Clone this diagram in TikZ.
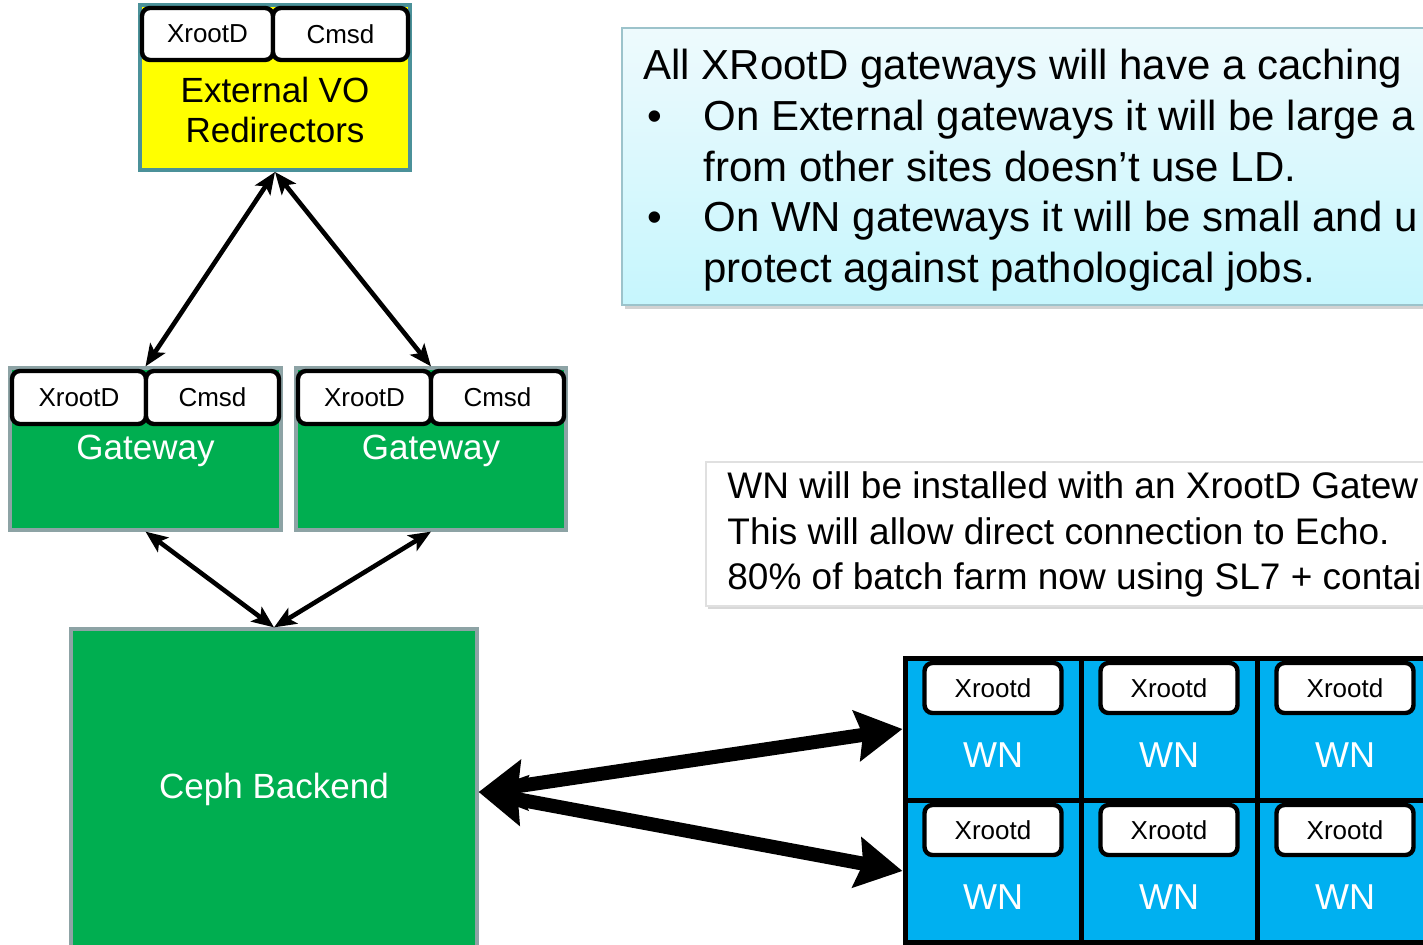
\documentclass[tikz,border=0pt]{standalone}
\usepackage{fontspec}
\setmainfont{Liberation Sans}
\usetikzlibrary{arrows.meta,shadows}
\definecolor{vyellow}{HTML}{FFFF00}
\definecolor{vteal}{HTML}{4B9199}
\definecolor{vgreen}{HTML}{00AE50}
\definecolor{vgray}{HTML}{8DA3A5}
\definecolor{vcyan}{HTML}{00B0F0}
\definecolor{notetop}{HTML}{EEFAFD}
\definecolor{notebot}{HTML}{C6F6FD}
\definecolor{noteborder}{HTML}{9CC3CB}
\begin{document}
\begin{tikzpicture}[x=0.5pt,y=-0.5pt,
  tag/.style={draw=black, line width=2.2pt, fill=white, rounded corners=4pt, inner sep=0pt,
    font=\fontsize{13}{15}\selectfont},
  extbox/.style={draw=vteal, line width=2pt, fill=vyellow, inner sep=0pt},
  gwbox/.style={draw=vgray, line width=1.6pt, fill=vgreen, inner sep=0pt},
  wncell/.style={draw=black, line width=2.5pt, fill=vcyan, inner sep=0pt,
    minimum width=88pt, minimum height=71pt},
  bigtext/.style={font=\fontsize{17.5}{20}\selectfont, inner sep=0pt},
  whitetext/.style={bigtext, text=white},
  thinarrow/.style={line width=2.3pt, {Stealth[length=11pt,width=9pt,inset=2.5pt]}-{Stealth[length=11pt,width=9pt,inset=2.5pt]}},
  thickarrow/.style={line width=7pt, {Stealth[length=23pt,width=25pt,inset=3pt]}-{Stealth[length=23pt,width=25pt,inset=3pt]}},
  notetext/.style={anchor=base west, inner sep=0pt, font=\fontsize{21}{25}\selectfont},
  note2text/.style={anchor=base west, inner sep=0pt, font=\fontsize{18.5}{22}\selectfont},
]
\useasboundingbox (0,0) rectangle (1423,945);
\clip (0,0) rectangle (1423,945);
\fill[white] (0,0) rectangle (1423,945);

% External VO redirectors
\node[extbox, minimum width=135pt, minimum height=82.5pt] (ext) at (275,87.5) {};
\node[tag, minimum width=65.5pt, minimum height=26pt] (extx) at (207.5,34) {XrootD};
\node[tag, minimum width=67.5pt, minimum height=26pt] (extc) at (340.5,34) {Cmsd};
\node[bigtext, align=center] (extlbl) at (275,110) {External VO\\Redirectors};

% Gateways
\node[gwbox, minimum width=135.5pt, minimum height=81pt] (gwL) at (145.5,449) {};
\node[tag, minimum width=67pt, minimum height=26.5pt] (gwLx) at (79,397.5) {XrootD};
\node[tag, minimum width=66.5pt, minimum height=26.5pt] (gwLc) at (212.5,397.5) {Cmsd};
\node[whitetext] (gwLlbl) at (145.5,451) {Gateway};

\node[gwbox, minimum width=135pt, minimum height=81pt] (gwR) at (431,449) {};
\node[tag, minimum width=66.5pt, minimum height=26.5pt] (gwRx) at (364.5,397.5) {XrootD};
\node[tag, minimum width=66.5pt, minimum height=26.5pt] (gwRc) at (497.5,397.5) {Cmsd};
\node[whitetext] (gwRlbl) at (431,451) {Gateway};

% Ceph backend
\node[gwbox, minimum width=203pt, minimum height=163pt] (ceph) at (274,792) {};
\node[whitetext] (cephlbl) at (274,789) {Ceph Backend};

% WN grid
\foreach \r/\ry in {1/729,2/871}{
  \foreach \c/\cx in {1/993,2/1169,3/1345}{
    \node[wncell] (wn\r\c) at (\cx,\ry) {};
  }
}
\foreach \r/\ry in {1/729,2/871}{
  \foreach \c/\cx in {1/993,2/1169,3/1345}{
    \node[tag, minimum width=68.5pt, minimum height=25pt] (x\r\c) at (\cx,\ry-41) {Xrootd};
    \node[font=\fontsize{18}{20}\selectfont, text=white, inner sep=0pt] (wnl\r\c) at (\cx,\ry+26) {WN};
  }
}

% Arrows
\draw[thinarrow] (ext.south) -- (gwL.north);
\draw[thinarrow] (ext.south) -- (gwR.north);
\draw[thinarrow] (ceph.north) -- (gwL.south);
\draw[thinarrow] (ceph.north) -- (gwR.south);
\draw[thickarrow] (ceph.east) -- (wn11.west);
\draw[thickarrow] (ceph.east) -- (wn21.west);

% Note 1
\node[draw=noteborder, line width=0.8pt, top color=notetop, bottom color=notebot,
  drop shadow={shadow xshift=1.5pt, shadow yshift=-2pt, opacity=0.35},
  minimum width=409pt, minimum height=138.5pt, inner sep=0pt] (note1) at (1031,166.5) {};
\node[notetext] (n1l1) at (643,80) {All XRootD gateways will have a caching};
\node[notetext] (n1b1) at (647,131) {•};
\node[notetext] (n1l2) at (703,131) {On External gateways it will be large a};
\node[notetext] (n1l3) at (703,182) {from other sites doesn’t use LD.};
\node[notetext] (n1b2) at (647,232) {•};
\node[notetext] (n1l4) at (703,232) {On WN gateways it will be small and u};
\node[notetext] (n1l5) at (703,283) {protect against pathological jobs.};

% Note 2
\node[draw=black!12, line width=0.6pt, fill=white,
  drop shadow={shadow xshift=1pt, shadow yshift=-1.5pt, opacity=0.3},
  minimum width=367pt, minimum height=72pt, inner sep=0pt] (note2) at (1073,534) {};
\node[note2text] (n2l1) at (727,499) {WN will be installed with an XrootD Gatew};
\node[note2text] (n2l2) at (727,545) {This will allow direct connection to Echo.};
\node[note2text] (n2l3) at (727,589) {80\% of batch farm now using SL7 + contai};
\end{tikzpicture}
\end{document}
